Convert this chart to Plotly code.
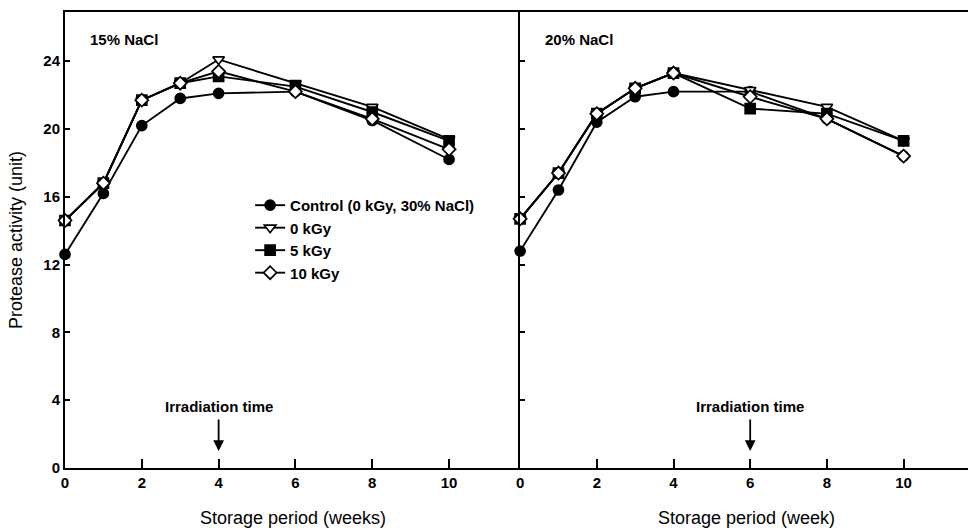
import plotly.graph_objects as go

weeks = [0, 1, 2, 3, 4, 6, 8, 10]
series_names = ["Control (0 kGy, 30% NaCl)", "0 kGy", "5 kGy", "10 kGy"]

# 15% NaCl panel
p15_control = [12.6, 16.2, 20.2, 21.8, 22.1, 22.2, 20.5, 18.2]
p15_0kgy = [14.6, 16.8, 21.7, 22.7, 24.1, 22.7, 21.3, 19.4]
p15_5kgy = [14.6, 16.8, 21.7, 22.7, 23.1, 22.5, 21.0, 19.3]
p15_10kgy = [14.6, 16.8, 21.7, 22.7, 23.4, 22.2, 20.6, 18.8]

# 20% NaCl panel
p20_control = [12.8, 16.4, 20.4, 21.9, 22.2, 22.2, 20.6, 18.4]
p20_0kgy = [14.7, 17.4, 20.9, 22.4, 23.3, 22.3, 21.3, 19.3]
p20_5kgy = [14.7, 17.4, 20.9, 22.4, 23.3, 21.2, 20.9, 19.3]
p20_10kgy = [14.7, 17.4, 20.9, 22.4, 23.3, 21.9, 20.6, 18.4]

x_ticks = [0, 2, 4, 6, 8, 10]
y_ticks = [0, 4, 8, 12, 16, 20, 24]
panel_labels = ["15% NaCl", "20% NaCl"]
x_titles = ["Storage period (weeks)", "Storage period (week)"]
y_title = "Protease activity (unit)"
irradiation_weeks = [4, 6]

symbols = ["circle", "triangle-down", "square", "diamond"]
fills = ["black", "white", "black", "white"]

FONT = "Liberation Sans, Arial, sans-serif"

fig = go.Figure()
panels = [
    ("x", "y", [p15_control, p15_0kgy, p15_5kgy, p15_10kgy], True),
    ("x2", "y2", [p20_control, p20_0kgy, p20_5kgy, p20_10kgy], False),
]
for xa, ya, data, show in panels:
    for name, vals, sym, fc in zip(series_names, data, symbols, fills):
        fig.add_trace(go.Scatter(
            x=weeks, y=vals, name=name, mode="lines+markers",
            xaxis=xa, yaxis=ya, showlegend=show, cliponaxis=False,
            line=dict(color="black", width=1.9),
            marker=dict(symbol=sym, size=10, color=fc,
                        line=dict(color="black", width=1.7)),
        ))

axis_common = dict(
    showline=True, linecolor="black", linewidth=2,
    ticks="inside", tickcolor="black", tickwidth=2,
    showgrid=False, zeroline=False, automargin=False,
    tickfont=dict(family=FONT, size=15, color="black", weight="bold"),
)

fig.update_layout(
    width=968, height=530,
    margin=dict(l=65, r=0, t=12, b=62),
    paper_bgcolor="white", plot_bgcolor="white",
    font=dict(family=FONT, color="black"),
    xaxis=dict(domain=[0, 0.504], range=[0, 11.85], tickvals=x_ticks,
               ticklen=9, mirror=True, **axis_common),
    xaxis2=dict(domain=[0.504, 1], range=[0, 11.68], tickvals=x_ticks,
                ticklen=9, mirror=True, anchor="y2", **axis_common),
    yaxis=dict(range=[0, 26.9], tickvals=y_ticks, ticklen=5,
               **axis_common),
    yaxis2=dict(range=[0, 26.9], tickvals=y_ticks, ticklen=5,
                anchor="x2", showticklabels=False, **axis_common),
    legend=dict(x=0.205, y=0.612, xanchor="left", yanchor="top",
                bgcolor="rgba(0,0,0,0)", tracegroupgap=0,
                font=dict(family=FONT, size=15, color="black", weight="bold"),
                itemwidth=30),
)

# axis titles
fig.add_annotation(text=x_titles[0], xref="paper", yref="paper",
                   x=0.2525, y=-0.11, xanchor="center", yanchor="middle",
                   showarrow=False, font=dict(family=FONT, size=18))
fig.add_annotation(text=x_titles[1], xref="paper", yref="paper",
                   x=0.755, y=-0.11, xanchor="center", yanchor="middle",
                   showarrow=False, font=dict(family=FONT, size=18))
fig.add_annotation(text=y_title, xref="paper", yref="paper",
                   x=-0.0543, y=0.5, xanchor="center", yanchor="middle",
                   textangle=-90, showarrow=False, font=dict(family=FONT, size=18))

for lab, xref, yref, wk in zip(panel_labels, ["x", "x2"], ["y", "y2"], irradiation_weeks):
    fig.add_annotation(text=lab, xref=xref, yref=yref, x=0.6, y=25.3,
                       xanchor="left", yanchor="middle", showarrow=False,
                       font=dict(family=FONT, size=15, weight="bold"))
    fig.add_annotation(text="Irradiation time", xref=xref, yref=yref,
                       x=wk, y=3.65, xanchor="center", yanchor="middle",
                       showarrow=False,
                       font=dict(family=FONT, size=15, weight="bold"))
    fig.add_annotation(text="", xref=xref, yref=yref, x=wk, y=1.0,
                       axref=xref, ayref=yref, ax=wk, ay=2.95,
                       showarrow=True, arrowhead=2, arrowsize=1.2,
                       arrowwidth=1.8, arrowcolor="black")

fig.write_html("out.html", config={"displayModeBar": False},
               post_script="document.body.style.margin='0px';document.body.style.overflow='hidden';")
